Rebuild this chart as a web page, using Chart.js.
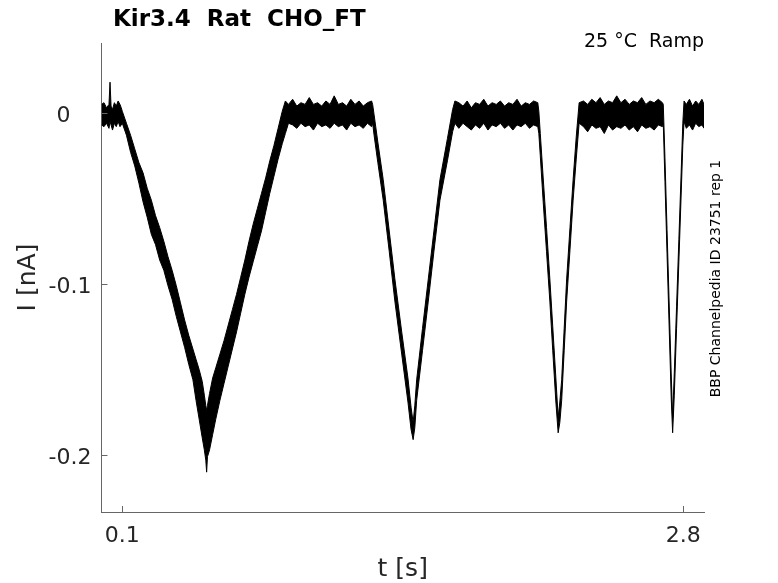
<!DOCTYPE html>
<html>
<head>
<meta charset="utf-8">
<script src="https://cdn.jsdelivr.net/npm/chart.js@4.4.1/dist/chart.umd.min.js"></script>
<style>
  html, body { margin: 0; padding: 0; background: #fff; }
  #wrap { width: 778px; height: 583px; }
</style>
</head>
<body>
<div id="wrap"><canvas id="trace" width="778" height="583"></canvas></div>
<script>
// Kir3.4 / Rat / CHO_FT - ramp protocol at 25 °C
// the noisy recording is drawn as a band between its upper and lower envelope

// time [s]
const timeS = [
  0.000, 0.012, 0.024, 0.036, 0.041, 0.046, 0.053, 0.062, 0.071, 0.080, 0.089, 0.095,
  0.100, 0.120, 0.140, 0.160, 0.180, 0.200, 0.220, 0.240, 0.260, 0.280, 0.300, 0.320,
  0.340, 0.360, 0.380, 0.400, 0.420, 0.440, 0.455, 0.470, 0.485, 0.495, 0.502, 0.506,
  0.510, 0.520, 0.535, 0.550, 0.570, 0.590, 0.610, 0.630, 0.650, 0.670, 0.690, 0.710,
  0.730, 0.750, 0.770, 0.790, 0.810, 0.830, 0.850, 0.870, 0.885, 0.900,
  0.920, 0.940, 0.960, 0.980, 1.000, 1.020, 1.040, 1.060, 1.080, 1.100,
  1.120, 1.140, 1.160, 1.180, 1.200, 1.220, 1.240, 1.260, 1.280, 1.300,
  1.305, 1.312, 1.330, 1.356, 1.385, 1.412, 1.445, 1.475, 1.490, 1.500,
  1.508, 1.517, 1.545, 1.573, 1.600, 1.629, 1.665, 1.690, 1.701,
  1.720, 1.740, 1.760, 1.780, 1.800, 1.820, 1.840, 1.860, 1.880, 1.900,
  1.920, 1.940, 1.960, 1.980, 2.000, 2.020, 2.040, 2.060, 2.080, 2.100,
  2.105, 2.112, 2.126, 2.142, 2.158, 2.172, 2.187, 2.198,
  2.206, 2.215, 2.227, 2.239, 2.255, 2.270, 2.285, 2.299,
  2.320, 2.340, 2.360, 2.380, 2.400, 2.420, 2.440, 2.460, 2.480, 2.500,
  2.520, 2.540, 2.560, 2.580, 2.600, 2.620, 2.640, 2.660, 2.680, 2.700,
  2.704, 2.712, 2.722, 2.732, 2.742, 2.749, 2.757, 2.768, 2.779, 2.790, 2.798, 2.804,
  2.815, 2.830, 2.845, 2.860, 2.875, 2.890, 2.900
];

// upper edge of the trace [nA]
const upperNA = [
  0.005, 0.006, 0.003, 0.005, 0.018, 0.004, 0.002, 0.006, 0.004, 0.007, 0.005, 0.003,
  0.001, -0.006, -0.013, -0.021, -0.029, -0.035, -0.044, -0.051, -0.060, -0.067, -0.075, -0.084,
  -0.092, -0.101, -0.111, -0.121, -0.130, -0.138, -0.144, -0.150, -0.157, -0.165, -0.171, -0.174,
  -0.171, -0.164, -0.155, -0.149, -0.141, -0.133, -0.124, -0.115, -0.106, -0.096, -0.086, -0.075,
  -0.065, -0.056, -0.047, -0.038, -0.028, -0.019, -0.009, 0.001, 0.007, 0.005,
  0.008, 0.004, 0.006, 0.005, 0.009, 0.005, 0.006, 0.004, 0.007, 0.005,
  0.010, 0.005, 0.006, 0.004, 0.008, 0.005, 0.007, 0.004, 0.006, 0.007,
  0.005, -0.001, -0.017, -0.039, -0.069, -0.097, -0.128, -0.155, -0.172, -0.181,
  -0.171, -0.156, -0.126, -0.097, -0.069, -0.039, -0.015, 0.002, 0.007,
  0.006, 0.004, 0.007, 0.003, 0.006, 0.005, 0.008, 0.004, 0.006, 0.005,
  0.007, 0.004, 0.006, 0.005, 0.008, 0.004, 0.006, 0.005, 0.007, 0.006,
  0.001, -0.012, -0.038, -0.067, -0.097, -0.125, -0.155, -0.178,
  -0.169, -0.156, -0.126, -0.097, -0.067, -0.039, -0.014, 0.006,
  0.007, 0.005, 0.008, 0.006, 0.009, 0.005, 0.007, 0.006, 0.010, 0.006,
  0.008, 0.005, 0.007, 0.006, 0.009, 0.005, 0.007, 0.006, 0.008, 0.006,
  0.005, -0.026, -0.068, -0.110, -0.152, -0.178, -0.152, -0.113, -0.074, -0.035, -0.006, 0.007,
  0.005, 0.008, 0.004, 0.007, 0.005, 0.008, 0.005
];

// lower edge of the trace [nA]
const lowerNA = [
  -0.007, -0.008, -0.006, -0.009, -0.005, -0.007, -0.010, -0.006, -0.008, -0.005, -0.008, -0.007,
  -0.006, -0.013, -0.023, -0.031, -0.041, -0.052, -0.061, -0.071, -0.077, -0.086, -0.092, -0.101,
  -0.109, -0.119, -0.128, -0.137, -0.147, -0.156, -0.168, -0.179, -0.190, -0.197, -0.203, -0.210,
  -0.201, -0.197, -0.188, -0.179, -0.168, -0.158, -0.148, -0.138, -0.128, -0.117, -0.106, -0.096,
  -0.087, -0.078, -0.069, -0.058, -0.047, -0.037, -0.027, -0.018, -0.012, -0.006,
  -0.007, -0.009, -0.006, -0.008, -0.007, -0.010, -0.006, -0.008, -0.007, -0.009,
  -0.006, -0.008, -0.007, -0.010, -0.006, -0.008, -0.007, -0.009, -0.006, -0.008,
  -0.006, -0.013, -0.029, -0.051, -0.081, -0.110, -0.141, -0.169, -0.185, -0.191,
  -0.184, -0.168, -0.139, -0.110, -0.081, -0.051, -0.028, -0.011, -0.006,
  -0.009, -0.006, -0.008, -0.010, -0.007, -0.009, -0.006, -0.010, -0.007, -0.008,
  -0.006, -0.009, -0.007, -0.010, -0.007, -0.008, -0.006, -0.009, -0.007, -0.008,
  -0.012, -0.025, -0.052, -0.081, -0.110, -0.139, -0.169, -0.187,
  -0.181, -0.168, -0.139, -0.110, -0.080, -0.051, -0.027, -0.006,
  -0.008, -0.011, -0.007, -0.009, -0.008, -0.012, -0.007, -0.010, -0.008, -0.009,
  -0.007, -0.010, -0.008, -0.011, -0.007, -0.009, -0.008, -0.010, -0.007, -0.008,
  -0.006, -0.040, -0.082, -0.124, -0.166, -0.187, -0.165, -0.126, -0.087, -0.048, -0.019, -0.005,
  -0.009, -0.007, -0.010, -0.006, -0.008, -0.007, -0.009
];

const xTicks = [0.1, 2.8];
const xTickLabels = ['0.1', '2.8'];
const yTicks = [-0.2, -0.1, 0];
const yTickLabels = ['-0.2', '-0.1', '0'];

const titleText = 'Kir3.4  Rat  CHO_FT';
const conditionText = '25 °C  Ramp';
const sideText = 'BBP Channelpedia ID 23751 rep 1';

const FONT = '"DejaVu Sans", Verdana, sans-serif';
const AXIS_GREY = '#666666';
const TEXT_GREY = '#262626';

const toPoints = (vals) => timeS.map((t, i) => ({ x: t, y: vals[i] }));

// ticks inside the axes + all labels, MATLAB style
const axisDecor = {
    id: 'axisDecor',
    afterDatasetsDraw(chart) {
        const { ctx, chartArea: area, scales: { x, y } } = chart;
        ctx.save();

        ctx.strokeStyle = AXIS_GREY;
        ctx.lineWidth = 1;
        ctx.beginPath();
        x.ticks.forEach(t => {
            const px = Math.round(x.getPixelForValue(t.value)) + 0.5;
            ctx.moveTo(px, area.bottom);
            ctx.lineTo(px, area.bottom - 6);
        });
        y.ticks.forEach(t => {
            const py = Math.round(y.getPixelForValue(t.value)) + 0.5;
            ctx.moveTo(area.left, py);
            ctx.lineTo(area.left + 6, py);
        });
        ctx.stroke();

        ctx.fillStyle = TEXT_GREY;
        ctx.font = '22px ' + FONT;
        ctx.textBaseline = 'alphabetic';

        ctx.textAlign = 'center';
        x.ticks.forEach((t, i) => {
            ctx.fillText(xTickLabels[i], x.getPixelForValue(t.value), 542);
        });

        // labels sit on their decimal point column
        ctx.textAlign = 'right';
        const decimals = ctx.measureText('.0').width;
        y.ticks.forEach((t, i) => {
            const label = yTickLabels[i];
            const right = label.includes('.') ? area.left - 10 : area.left - 10 - decimals;
            ctx.fillText(label, right, y.getPixelForValue(t.value) + 9);
        });

        // axis titles
        ctx.font = '25px ' + FONT;
        ctx.textAlign = 'center';
        ctx.fillText('t [s]', (area.left + area.right) / 2, 576);

        ctx.save();
        ctx.translate(35, (area.top + area.bottom) / 2);
        ctx.rotate(-Math.PI / 2);
        ctx.fillText('I [nA]', 0, 0);
        ctx.restore();

        // title and annotations
        ctx.fillStyle = '#000';
        ctx.font = 'bold 23px ' + FONT;
        ctx.textAlign = 'left';
        ctx.fillText(titleText, 113, 26);

        ctx.font = '19px ' + FONT;
        ctx.textAlign = 'right';
        ctx.fillText(conditionText, area.right, 47);

        ctx.font = '14px ' + FONT;
        ctx.textAlign = 'center';
        ctx.translate(720, (area.top + area.bottom) / 2 + 1);
        ctx.rotate(-Math.PI / 2);
        ctx.fillText(sideText, 0, 0);

        ctx.restore();
    }
};

new Chart(document.getElementById('trace'), {
    type: 'line',
    data: {
        datasets: [
            {
                label: 'lower',
                data: toPoints(lowerNA),
                borderColor: '#000',
                borderWidth: 1,
                pointRadius: 0,
                tension: 0,
                fill: false
            },
            {
                label: 'upper',
                data: toPoints(upperNA),
                borderColor: '#000',
                borderWidth: 1,
                pointRadius: 0,
                tension: 0,
                backgroundColor: '#000',
                fill: '-1'
            }
        ]
    },
    options: {
        responsive: false,
        animation: false,
        events: [],
        layout: { padding: { top: 43, right: 74, left: 0, bottom: 0 } },
        plugins: {
            legend: { display: false },
            tooltip: { enabled: false },
            title: { display: false }
        },
        scales: {
            x: {
                type: 'linear',
                min: 0,
                max: 2.9,
                afterBuildTicks: (scale) => { scale.ticks = xTicks.map(v => ({ value: v })); },
                afterFit: (scale) => { scale.height = 71; },
                ticks: { display: false },
                grid: { display: false },
                border: { display: true, color: AXIS_GREY, width: 1 }
            },
            y: {
                type: 'linear',
                min: -0.2333,
                max: 0.0409,
                afterBuildTicks: (scale) => { scale.ticks = yTicks.map(v => ({ value: v })); },
                afterFit: (scale) => { scale.width = 101.5; },
                ticks: { display: false },
                grid: { display: false },
                border: { display: true, color: AXIS_GREY, width: 1 }
            }
        }
    },
    plugins: [axisDecor]
});
</script>
</body>
</html>
